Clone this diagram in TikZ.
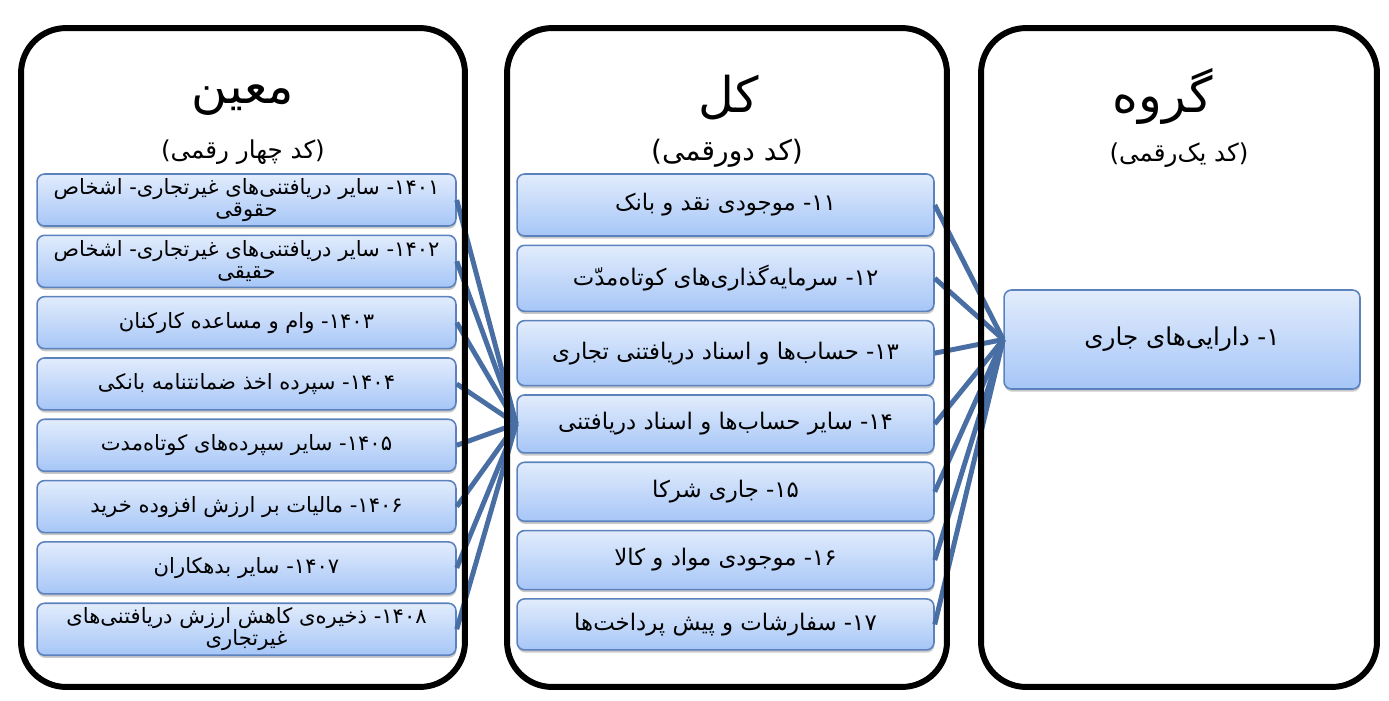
\documentclass[tikz,border=0pt]{standalone}
\usepackage{fontspec}
\newfontfamily\fa[Script=Arabic]{DejaVu Sans}
\TeXXeTstate=1
\usetikzlibrary{positioning, shadows}
\definecolor{boxtop}{RGB}{226,236,252}
\definecolor{boxbot}{RGB}{166,198,247}
\definecolor{boxline}{RGB}{92,130,190}
\definecolor{linkblue}{RGB}{72,110,163}
\newcommand{\rtl}[1]{\beginR #1\endR}

\begin{document}
\begin{tikzpicture}[
	x=0.02cm, y=-0.02cm,
	node distance=0.155cm and 0em,
	panel/.style={draw, line width=3.4pt, rounded corners=0.9cm, minimum height=13.18cm, inner sep=0pt},
	title/.style={font=\fa\fontsize{28}{32}\selectfont},
	subtitle/.style={font=\fa\fontsize{14}{16}\selectfont},
	acc/.style={rectangle, draw=boxline, line width=0.9pt, top color=boxtop, bottom color=boxbot,
		rounded corners=0.15cm, align=center, inner sep=1pt, font=\fa\fontsize{12}{12.5}\selectfont,
		drop shadow={shadow xshift=0.3pt, shadow yshift=-1.5pt, opacity=0.3, fill=black!70}},
	moeen/.style={acc, minimum width=8.38cm, minimum height=1.04cm},
	kol/.style={acc, minimum width=8.34cm, font=\fa\fontsize{13}{14}\selectfont},
	link/.style={draw=linkblue, line width=2.8pt},
	]
	\useasboundingbox (0,0) rectangle (1389,700);
	
	% titles
	\node [title] (t1) at (243,100) {\rtl{معین}};
	\node [subtitle] (s1) at (243,152) {\rtl{(کد چهار رقمی)}};
	\node [title] (t2) at (729,98) {\rtl{کل}};
	\node [subtitle, font=\fa\fontsize{16}{18}\selectfont] (s2) at (727,153) {\rtl{(کد دورقمی)}};
	\node [title] (t3) at (1163,96) {\rtl{گروه}};
	\node [subtitle] (s3) at (1179,155) {\rtl{(کد یک^^^^200cرقمی)}};
	
	% moeen accounts
	\node [moeen] (l1) at (246.5,200) {\rtl{۱۴۰۱- سایر دریافتنی^^^^200cهای غیرتجاری- اشخاص}\\\rtl{حقوقی}};
	\node [moeen, below= of l1] (l2) {\rtl{۱۴۰۲- سایر دریافتنی^^^^200cهای غیرتجاری- اشخاص}\\\rtl{حقیقی}};
	\node [moeen, below= of l2] (l3) {\rtl{۱۴۰۳- وام و مساعده کارکنان}};
	\node [moeen, below= of l3] (l4) {\rtl{۱۴۰۴- سپرده اخذ ضمانتنامه بانکی}};
	\node [moeen, below= of l4] (l5) {\rtl{۱۴۰۵- سایر سپرده^^^^200cهای کوتاه^^^^200cمدت}};
	\node [moeen, below= of l5] (l6) {\rtl{۱۴۰۶- مالیات بر ارزش افزوده خرید}};
	\node [moeen, below= of l6] (l7) {\rtl{۱۴۰۷- سایر بدهکاران}};
	\node [moeen, below= of l7] (l8) {\rtl{۱۴۰۸- ذخیره^^^^200cی کاهش ارزش دریافتنی^^^^200cهای}\\\rtl{غیرتجاری}};
	
	% kol accounts
	\node [kol, minimum height=1.24cm] (m1) at (725.5,205) {\rtl{۱۱- موجودی نقد و بانک}};
	\node [kol, minimum height=1.32cm, below= of m1] (m2) {\rtl{۱۲- سرمایه^^^^200cگذاری^^^^200cهای کوتاه^^^^200cمدّت}};
	\node [kol, minimum height=1.30cm, below= of m2] (m3) {\rtl{۱۳- حساب^^^^200cها و اسناد دریافتنی تجاری}};
	\node [kol, minimum height=1.16cm, below= of m3] (m4) {\rtl{۱۴- سایر حساب^^^^200cها و اسناد دریافتنی}};
	\node [kol, minimum height=1.18cm, below= of m4] (m5) {\rtl{۱۵- جاری شرکا}};
	\node [kol, minimum height=1.18cm, below= of m5] (m6) {\rtl{۱۶- موجودی مواد و کالا}};
	\node [kol, minimum height=1.02cm, below= of m6] (m7) {\rtl{۱۷- سفارشات و پیش پرداخت^^^^200cها}};
	
	% goroh account
	\node [acc, minimum width=7.12cm, minimum height=1.98cm, font=\fa\fontsize{14}{16}\selectfont] (r1) at (1182,339.5) {\rtl{۱- دارایی^^^^200cهای جاری}};
	
	% connectors
	\foreach \i in {1,...,8}
		\path [link] (l\i.east) -- (m4.west);
	\foreach \i in {1,...,7}
		\path [link] (m\i.east) -- (r1.west);
	
	% panels
	\node [panel, minimum width=8.88cm] (p1) at (243,357.5) {};
	\node [panel, minimum width=8.8cm] (p2) at (727,357.5) {};
	\node [panel, minimum width=7.92cm] (p3) at (1179,357.5) {};
\end{tikzpicture}
\end{document}
